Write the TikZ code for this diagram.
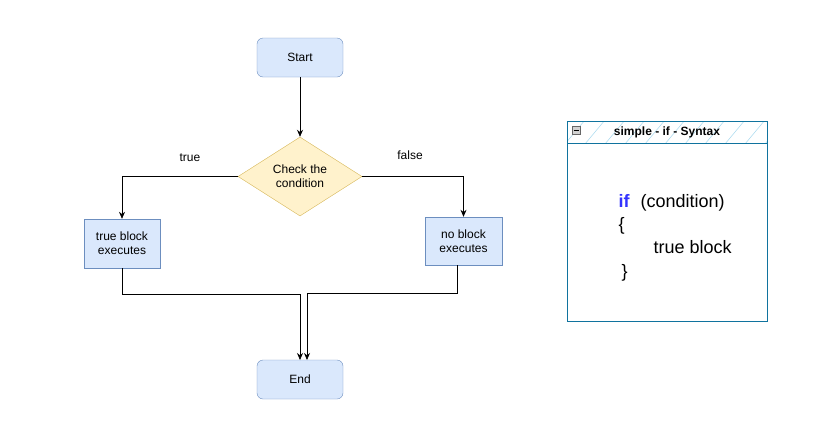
\documentclass[tikz,border=0pt]{standalone}
\usepackage{fontspec}
\setmainfont{Liberation Sans}
\usetikzlibrary{shapes.geometric,arrows.meta}
\definecolor{boxfill}{HTML}{DAE8FC}
\definecolor{boxline}{HTML}{6C8EBF}
\definecolor{condfill}{HTML}{FFF2CC}
\definecolor{condline}{HTML}{D6B656}
\definecolor{laneline}{HTML}{10739E}
\definecolor{hatch}{HTML}{B1DDF0}
\definecolor{keyword}{HTML}{3333FF}
\tikzset{
  term/.style={draw=boxline,fill=boxfill,rounded corners=6pt,
    minimum width=86pt,minimum height=39pt,font=\fontsize{12}{14}\selectfont},
  blockbox/.style={draw=boxline,fill=boxfill,align=center,
    minimum height=48pt,font=\fontsize{12}{14}\selectfont},
  cond/.style={diamond,draw=condline,fill=condfill,aspect=1.57,
    minimum width=124pt,minimum height=79pt,inner sep=0pt,align=center,
    font=\fontsize{12}{14}\selectfont},
  flow/.style={-{Stealth[length=7pt,width=6pt]},black,line width=0.75pt},
  lbl/.style={font=\fontsize{12}{14}\selectfont},
  code/.style={anchor=base west,font=\fontsize{18}{20}\selectfont}
}
\begin{document}
\begin{tikzpicture}[x=1pt,y=-1pt]
\useasboundingbox (0,0) rectangle (839,432);
% flow chart
\node[term] (start) at (300,57.5) {Start};
\node[cond] (check) at (300,176.5) {Check the\\condition};
\node[blockbox,minimum width=76pt,minimum height=49pt] (yes) at (122,243.5) {true block\\executes};
\node[blockbox,minimum width=77pt] (no) at (463.5,241) {no block\\executes};
\node[term] (stop) at (300,379.5) {End};
\coordinate (leftin) at (300,360);
\coordinate (rightin) at (307,360);
\draw[flow] (start) -- (check);
\draw[flow] (check.west) -| (yes.north);
\draw[flow] (check.east) -| (no.north);
\draw[flow] (yes.south) |- (300,294) -- (leftin);
\draw[flow] ([xshift=-6.5pt]no.south) |- (307,293) -- (rightin);
\node[lbl] (tlbl) at (190,158) {true};
\node[lbl] (flbl) at (410,155) {false};
% syntax box
\begin{scope}
  \clip (567,121.5) rectangle (767,143);
  \foreach \i in {0,20,...,240}
    \draw[hatch,line width=0.6pt] (560+\i,150) -- (590+\i,114);
\end{scope}
\draw[laneline,line width=0.75pt] (567,121.5) rectangle (767,321)
  (567,143) -- (767,143);
\node[draw=gray!80!black,fill=gray!35,minimum size=8pt,inner sep=0pt] (fold) at (576,130) {};
\draw[black,line width=0.8pt] (573.5,130) -- (578.5,130);
\node[font=\bfseries\fontsize{12}{14}\selectfont] (title) at (667,132.5) {simple - if - Syntax};
\node[code,text=keyword,font=\bfseries\fontsize{18}{20}\selectfont] (kw) at (615,207) {if};
\node[code] (cnd) at (637,207) {(condition)};
\node[code] (open) at (615,230) {\{};
\node[code] (body) at (650,253) {true block};
\node[code] (close) at (618,277) {\}};
\end{tikzpicture}
\end{document}
